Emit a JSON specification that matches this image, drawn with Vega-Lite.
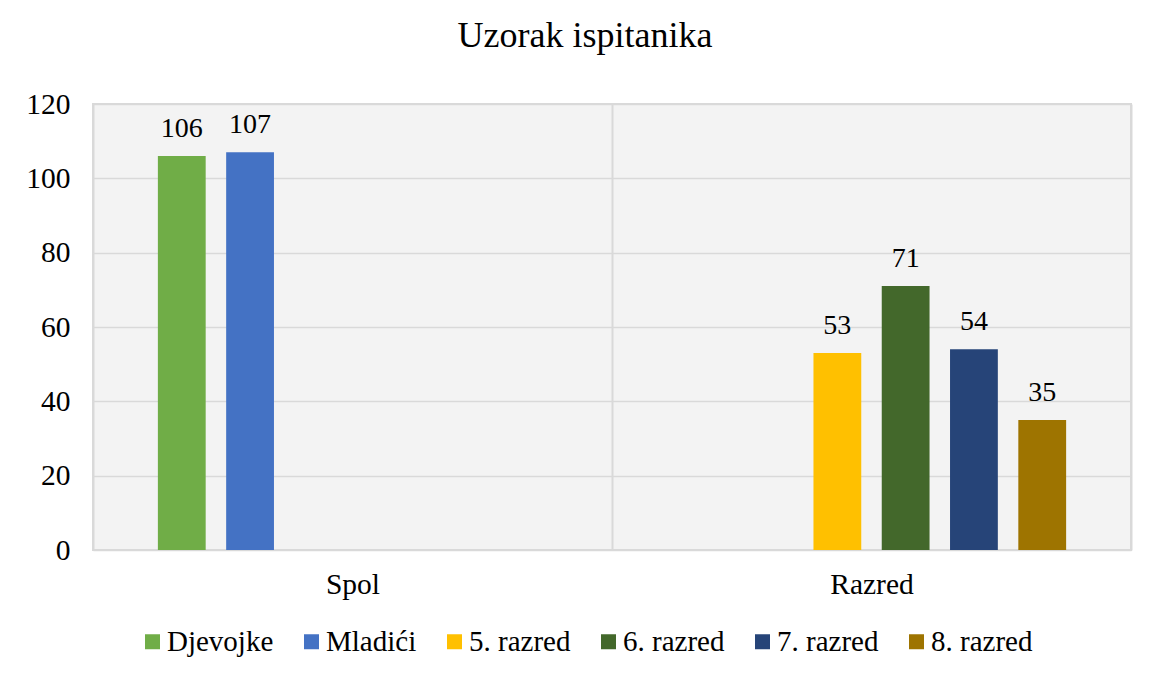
{
  "$schema": "https://vega.github.io/schema/vega-lite/v6.json",
  "width": 1038,
  "height": 446,
  "autosize": {"type": "none"},
  "padding": {"left": 93, "top": 104, "right": 22, "bottom": 127},
  "background": "white",
  "title": {"text": "Uzorak ispitanika", "fontSize": 36, "font": "Liberation Serif", "fontWeight": "normal", "color": "#000", "anchor": "middle", "dx": -27, "offset": 34},
  "data": {"values": [
    {"kategorija": "Spol", "skupina": "Djevojke", "broj": 106},
    {"kategorija": "Spol", "skupina": "Mladići", "broj": 107},
    {"kategorija": "Razred", "skupina": "5. razred", "broj": 53},
    {"kategorija": "Razred", "skupina": "6. razred", "broj": 71},
    {"kategorija": "Razred", "skupina": "7. razred", "broj": 54},
    {"kategorija": "Razred", "skupina": "8. razred", "broj": 35}
  ]},
  "encoding": {
    "x": {"field": "kategorija", "type": "nominal", "sort": ["Spol", "Razred"],
      "scale": {"paddingInner": 0, "paddingOuter": 0},
      "axis": {"title": null, "labelAngle": 0, "domain": false, "ticks": false, "labelPadding": 20, "grid": true, "tickBand": "extent", "gridColor": "#d9d9d9", "gridWidth": 2, "labelFontSize": 29.5, "labelFont": "Liberation Serif", "labelColor": "#000"}},
    "xOffset": {"field": "skupina", "type": "nominal",
      "scale": {"domain": ["Djevojke", "Mladići", "5. razred", "6. razred", "7. razred", "8. razred"], "paddingInner": 0.3, "paddingOuter": 0.95}},
    "y": {"field": "broj", "type": "quantitative", "scale": {"domain": [0, 120], "nice": false},
      "axis": {"title": null, "values": [0, 20, 40, 60, 80, 100, 120], "domain": false, "ticks": false, "labelPadding": 23, "gridColor": "#d9d9d9", "gridWidth": 1.5, "labelFontSize": 29.5, "labelFont": "Liberation Serif", "labelColor": "#000"}}
  },
  "layer": [
    {"mark": {"type": "bar"},
      "encoding": {"color": {"field": "skupina", "type": "nominal",
        "scale": {"domain": ["Djevojke", "Mladići", "5. razred", "6. razred", "7. razred", "8. razred"], "range": ["#70AD47", "#4472C4", "#FFC000", "#43682B", "#264478", "#9E7400"]},
        "legend": {"orient": "none", "legendX": 45, "legendY": 523, "direction": "horizontal", "columns": 6, "title": null, "symbolType": "square", "symbolSize": 225, "symbolStrokeWidth": 0, "labelFontSize": 29, "labelFont": "Liberation Serif", "labelColor": "#000", "labelOffset": 0, "columnPadding": 23, "padding": 0}}}},
    {"mark": {"type": "text", "baseline": "alphabetic", "dy": -19, "fontSize": 28, "font": "Liberation Serif", "color": "#000"},
      "encoding": {"text": {"field": "broj", "type": "quantitative"}}}
  ],
  "config": {"view": {"stroke": "#d9d9d9", "strokeWidth": 2, "fill": "#f3f3f3"}}
}
